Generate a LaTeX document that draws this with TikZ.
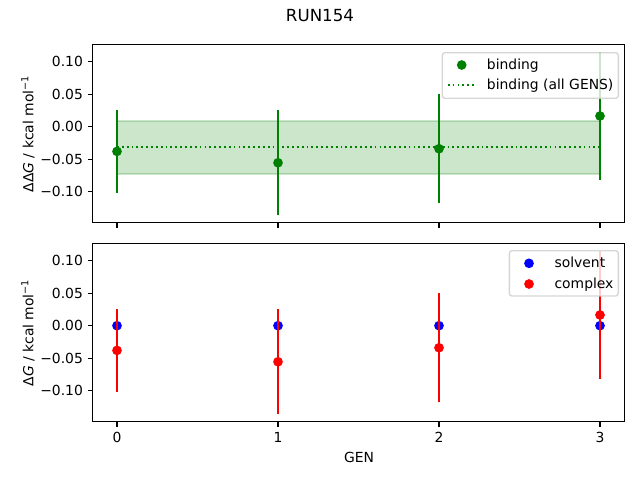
\documentclass[tikz,border=0pt]{standalone}
\usepackage{fontspec}
\setmainfont{DejaVu Sans}
\definecolor{mgreen}{HTML}{008000}
\definecolor{mblue}{HTML}{0000FF}
\definecolor{mred}{HTML}{FF0000}
\definecolor{mframe}{HTML}{CCCCCC}
\tikzset{
  axisframe/.style={draw=black, line width=0.8pt},
  tickmark/.style={line width=0.8pt},
  ticklabel/.style={inner sep=0pt, text height=7.3pt, text depth=0pt, font=\fontsize{10}{12}\selectfont},
  ebar/.style={line width=1.5pt},
  meandots/.style={line width=1.4pt, dash pattern=on 1.3pt off 2.2pt, mgreen},
  legframe/.style={draw=mframe, fill=white, fill opacity=0.8, draw opacity=0.8, line width=1pt, rounded corners=2pt},
  legtext/.style={anchor=base west, inner sep=0pt, font=\fontsize{10}{12}\selectfont},
  axlabel/.style={inner sep=0pt, font=\fontsize{10}{12}\selectfont},
}
\begin{document}
\begin{tikzpicture}[x=0.72pt,y=-0.72pt]
\useasboundingbox (0,0) rectangle (640,480);
\node[anchor=base, inner sep=0pt, font=\fontsize{12}{14}\selectfont] (title) at (320,21.5) {RUN154};

% ---------- top axes ----------
\begin{scope}[shift={(117,126.7)}, x=115.92pt, y=468pt]
  \fill[mgreen, fill opacity=0.2] (0,-0.073) rectangle (3,0.009);
  \draw[mgreen, draw opacity=0.2, line width=1pt] (0,-0.073) rectangle (3,0.009);
  \draw[meandots] (0,-0.031) -- (3,-0.031);
  \foreach \g/\v/\e in {0/-0.038/0.064, 1/-0.0555/0.0808, 2/-0.0339/0.0842, 3/0.0165/0.098}{
    \draw[ebar, mgreen] (\g,\v-\e) -- (\g,\v+\e);
    \fill[mgreen] (\g,\v) circle[radius=3.5pt];
  }
  \draw[axisframe] (-0.15,-0.148) rectangle (3.15,0.1265);
  \foreach \g in {0,1,2,3}{
    \draw[tickmark] (\g,-0.148) -- ++(0,-3.5pt);
  }
  \foreach \v/\t in {0.10/0.10, 0.05/0.05, 0/0.00, -0.05/−0.05, -0.10/−0.10}{
    \draw[tickmark] (-0.15,\v) -- ++(-3.5pt,0);
    \node[ticklabel, anchor=east] at ([xshift=-7pt]-0.15,\v) {\t};
  }
\end{scope}
\node[axlabel, rotate=90, anchor=south] (ylab1) at (35,133.9) {ΔΔ\textit{G} / kcal mol\textsuperscript{−1}};

% legend top
\draw[legframe] (442.3,52.7) rectangle (618.3,98.3);
\fill[mgreen] (461.7,65) circle[radius=3.5pt];
\draw[meandots] (447.8,84.7) -- (475.6,84.7);
\node[legtext] (lb1) at (486.7,69.3) {binding};
\node[legtext] (lb2) at (486.7,89.0) {binding (all GENS)};

% ---------- bottom axes ----------
\begin{scope}[shift={(117,325.7)}, x=115.92pt, y=468pt]
  \foreach \g in {0,1,2,3}{
    \fill[mblue] (\g,0) circle[radius=3.5pt];
  }
  \foreach \g/\v/\e in {0/-0.038/0.064, 1/-0.0555/0.0808, 2/-0.0339/0.0842, 3/0.0165/0.098}{
    \draw[ebar, mred] (\g,\v-\e) -- (\g,\v+\e);
    \fill[mred] (\g,\v) circle[radius=3.5pt];
  }
  \draw[axisframe] (-0.15,-0.148) rectangle (3.15,0.1265);
  \foreach \g in {0,1,2,3}{
    \draw[tickmark] (\g,-0.148) -- ++(0,-3.5pt);
    \node[ticklabel, anchor=north] at ([yshift=-7pt]\g,-0.148) {\g};
  }
  \foreach \v/\t in {0.10/0.10, 0.05/0.05, 0/0.00, -0.05/−0.05, -0.10/−0.10}{
    \draw[tickmark] (-0.15,\v) -- ++(-3.5pt,0);
    \node[ticklabel, anchor=east] at ([xshift=-7pt]-0.15,\v) {\t};
  }
\end{scope}
\node[axlabel, rotate=90, anchor=south] (ylab2) at (35,332.7) {Δ\textit{G} / kcal mol\textsuperscript{−1}};
\node[axlabel, anchor=base] (xlab) at (359,462.3) {GEN};

% legend bottom
\draw[legframe] (509.3,250.7) rectangle (618.3,296);
\fill[mblue] (529,263.3) circle[radius=3.5pt];
\fill[mred] (529,284) circle[radius=3.5pt];
\node[legtext] (ls1) at (554.3,267.6) {solvent};
\node[legtext] (ls2) at (554.3,288.3) {complex};
\end{tikzpicture}
\end{document}
